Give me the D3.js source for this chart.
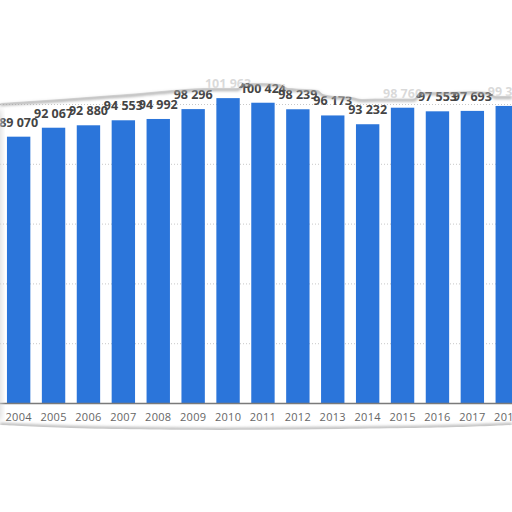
<!DOCTYPE html>
<html>
<head>
<meta charset="utf-8">
<script src="https://cdn.jsdelivr.net/npm/d3@7"></script>
<style>
  body { margin: 0; background: #fff; }
  svg { display: block; }
</style>
</head>
<body>
<svg id="chart" width="512" height="512"></svg>
<script>
// Data
var years = ["2004", "2005", "2006", "2007", "2008", "2009", "2010", "2011",
             "2012", "2013", "2014", "2015", "2016", "2017", "2018"];
var values = [89070, 92067, 92880, 94553, 94992, 98296, 101963, 100424,
              98239, 96173, 93232, 98760, 97553, 97693, 99350];
var gridTicks = [20000, 40000, 60000, 80000, 100000];

// Setup
var svg = d3.select("#chart");
var baseY = 403;

var scaleX = d3.scaleBand()
    .domain(years)
    .range([1.2, 524.7])
    .paddingInner(0.33)
    .paddingOuter(0.165);

var scaleY = d3.scaleLinear()
    .domain([0, 100000])
    .range([baseY, 104]);

var fmt = d3.formatLocale({decimal: ",", thousands: " ", grouping: [3], currency: ["", ""]}).format(",d");

// filters for the torn paper shadows
var defs = svg.append("defs");
defs.append("filter").attr("id", "blur")
    .attr("x", "-10%").attr("y", "-200%").attr("width", "120%").attr("height", "500%")
  .append("feGaussianBlur").attr("stdDeviation", 1.4);
defs.append("filter").attr("id", "blurWide")
    .attr("x", "-50%").attr("y", "-50%").attr("width", "200%").attr("height", "200%")
  .append("feGaussianBlur").attr("stdDeviation", 3);

// grid lines
svg.append("g").selectAll("line.grid")
    .data(gridTicks).enter().append("line")
    .attr("class", "grid")
    .attr("x1", 0).attr("x2", 512)
    .attr("y1", function(d) { return scaleY(d) + 0.5; })
    .attr("y2", function(d) { return scaleY(d) + 0.5; })
    .attr("stroke", "#c8c8c8")
    .attr("stroke-width", 1)
    .attr("stroke-dasharray", "1,2");

// bars
svg.append("g").selectAll("rect.bar")
    .data(values).enter().append("rect")
    .attr("class", "bar")
    .attr("x", function(d, i) { return scaleX(years[i]); })
    .attr("width", scaleX.bandwidth())
    .attr("y", function(d) { return scaleY(d); })
    .attr("height", function(d) { return baseY - scaleY(d); })
    .attr("fill", "#2b75da");

// value labels
svg.append("g").selectAll("text.val")
    .data(values).enter().append("text")
    .attr("class", "val")
    .attr("x", function(d, i) { return scaleX(years[i]) + scaleX.bandwidth() / 2; })
    .attr("y", function(d) { return scaleY(d) - 10; })
    .attr("text-anchor", "middle")
    .attr("font-family", "'Open Sans', sans-serif")
    .attr("font-weight", "bold")
    .attr("font-size", "12.5px")
    .attr("fill", "#444")
    .text(function(d) { return fmt(d); });

// x axis
var axisX = d3.axisBottom(scaleX).tickSize(0).tickPadding(10);
var gx = svg.append("g")
    .attr("transform", "translate(0," + baseY + ")")
    .call(axisX);
gx.select(".domain").attr("stroke", "#7a7a7a").attr("stroke-width", 1.5)
    .attr("d", "M0,0.5H512");
gx.selectAll("text")
    .attr("font-family", "'Open Sans', sans-serif")
    .attr("font-size", "11px")
    .attr("letter-spacing", "0.3px")
    .attr("fill", "#666");

// torn paper edges (decoration, pixel coords)
var tearTop = [[0,103],[30,101],[60,99],[100,96],[140,93],[172,90],[185,89],[205,88],
               [225,88],[238,88],[243,83],[262,83],[280,84],[288,88],[305,89],[318,90],
               [323,94],[335,96],[352,97],[362,99],[375,98.5],[385,98.5],[414,98.5],
               [420,92],[445,92],[470,91],[488,92],[496,96],[512,96]];
var tearBottom = [[0,423],[40,425],[100,427],[180,428],[260,428],[340,427],[420,426],
                  [470,425],[512,423]];

var lineTop = d3.line().curve(d3.curveMonotoneX);
var lineBottom = d3.line().curve(d3.curveBasis);

// top shadow + cover
svg.append("path")
    .attr("d", lineTop(tearTop))
    .attr("transform", "translate(0,1.5)")
    .attr("fill", "none")
    .attr("stroke", "#a0a0a0")
    .attr("stroke-width", 2.5)
    .attr("filter", "url(#blur)");
svg.append("path")
    .attr("d", lineTop(tearTop) + "L512,0L0,0Z")
    .attr("fill", "#fff")
    .attr("fill-opacity", 0.8);

// bottom shadow + cover
svg.append("path")
    .attr("d", lineBottom(tearBottom))
    .attr("transform", "translate(0,1.5)")
    .attr("fill", "none")
    .attr("stroke", "#b0b0b0")
    .attr("stroke-width", 3)
    .attr("filter", "url(#blur)");
svg.append("path")
    .attr("d", lineBottom(tearBottom.map(function(p) { return [p[0], p[1] + 2]; })) + "L512,512L0,512Z")
    .attr("fill", "#fff");

// faint shadow on left edge
svg.append("rect")
    .attr("x", -6).attr("y", 110).attr("width", 7).attr("height", 310)
    .attr("fill", "#d8d8d8")
    .attr("filter", "url(#blurWide)");
</script>
</body>
</html>
